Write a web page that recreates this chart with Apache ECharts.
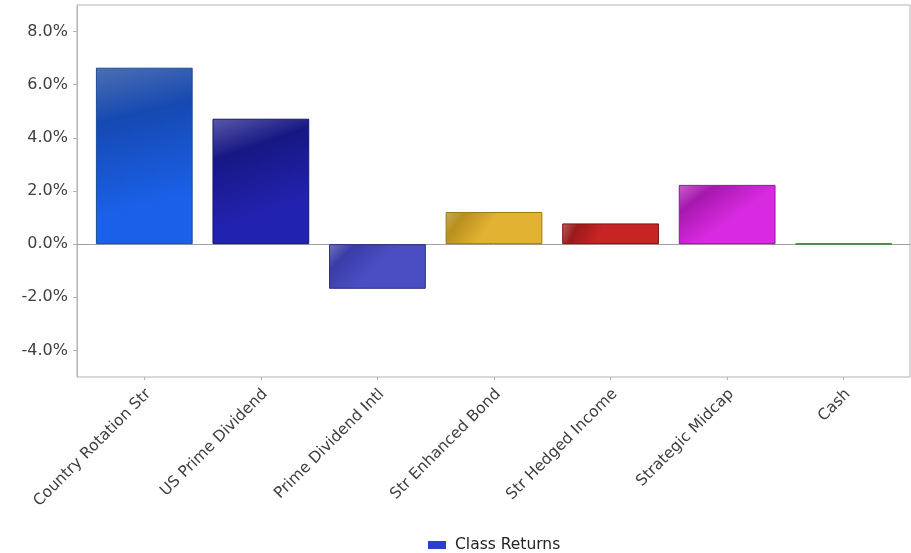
<!DOCTYPE html>
<html>
<head>
<meta charset="utf-8">
<script src="https://cdn.jsdelivr.net/npm/echarts@6/dist/echarts.min.js"></script>
<style>html,body{margin:0;padding:0;background:#fff}#c{width:911px;height:553px}</style>
</head>
<body>
<div id="c"></div>
<script>
const categories = ['Country Rotation Str', 'US Prime Dividend', 'Prime Dividend Intl', 'Str Enhanced Bond', 'Str Hedged Income', 'Strategic Midcap', 'Cash'];
const values = [6.64, 4.72, -1.68, 1.21, 0.78, 2.23, 0.02];
const baseColors = ['#1a60e8', '#2222b0', '#4a4ec2', '#e2b232', '#c82424', '#d82ae0', '#2f8a2f'];
const darkColors = ['#1649b2', '#171784', '#3a3ca8', '#b8901e', '#9a1a1a', '#a618ae', '#2f8a2f'];
const lightColors = ['#4d6fb2', '#5a5aa8', '#7476bc', '#c8aa5a', '#b86060', '#c464cc', '#2f8a2f'];
const borderColors = ['#1d4b98', '#15156e', '#2c2c82', '#9a7a1a', '#7a1212', '#8c1a92', '#2f7a2f'];
const yTickValues = [-4, -2, 0, 2, 4, 6, 8];
const seriesName = 'Class Returns';

const font = 'DejaVu Sans';
const barData = values.map((v, i) => ({
  value: v,
  itemStyle: {
    color: {
      type: 'linear', x: 0, y: 0, x2: 0.45, y2: 1,
      colorStops: [
        { offset: 0, color: lightColors[i] },
        { offset: 0.3, color: darkColors[i] },
        { offset: 0.8, color: baseColors[i] },
        { offset: 1, color: baseColors[i] }
      ]
    },
    borderColor: borderColors[i],
    borderWidth: 1
  }
}));

const chart = echarts.init(document.getElementById('c'), null, { renderer: 'canvas' });
chart.setOption({
  animation: false,
  backgroundColor: '#ffffff',
  grid: [
    { left: 77, right: 1, top: 5, bottom: 176, show: true, borderColor: '#b4b4b4', borderWidth: 1, backgroundColor: 'transparent' },
    { left: 86, right: 9, top: 5, bottom: 176 }
  ],
  legend: {
    left: 423, top: 532,
    icon: 'rect', itemWidth: 18, itemHeight: 8, itemGap: 9,
    textStyle: { fontFamily: font, fontSize: 15.5, color: '#222', padding: [0, 0, 0, 4] },
    data: [{ name: seriesName, itemStyle: { color: '#2a3fd0' } }]
  },
  xAxis: [
    {
      gridIndex: 0, type: 'value', min: 0, max: 1,
      axisLine: { show: true, onZero: true, lineStyle: { color: '#a0a0a0', width: 1 } },
      axisTick: { show: false }, axisLabel: { show: false }, splitLine: { show: false }
    },
    {
      gridIndex: 1, type: 'category', data: categories, position: 'bottom',
      axisLine: { show: false, onZero: false },
      axisTick: { show: true, alignWithLabel: true, length: 3, lineStyle: { color: '#b4b4b4' } },
      axisLabel: { rotate: 45, fontFamily: font, fontSize: 15.5, color: '#404040', margin: 19, interval: 0, padding: [0, -6, 0, 0] },
      splitLine: { show: false }
    }
  ],
  yAxis: [
    {
      gridIndex: 0, type: 'value', min: -5, max: 9, interval: 1,
      axisLine: { show: true, lineStyle: { color: '#b4b4b4' } },
      axisTick: { show: true, length: 4, customValues: yTickValues, lineStyle: { color: '#b4b4b4' } },
      axisLabel: {
        customValues: yTickValues, fontFamily: font, fontSize: 16, color: '#404040', margin: 9,
        formatter: v => v.toFixed(1) + '%'
      },
      splitLine: { show: false }
    },
    {
      gridIndex: 1, type: 'value', min: -5, max: 9, interval: 1, show: false,
      splitLine: { show: false }
    }
  ],
  series: [{
    name: seriesName, type: 'bar', xAxisIndex: 1, yAxisIndex: 1,
    barCategoryGap: '17%',
    data: barData
  }]
});
</script>
</body>
</html>
